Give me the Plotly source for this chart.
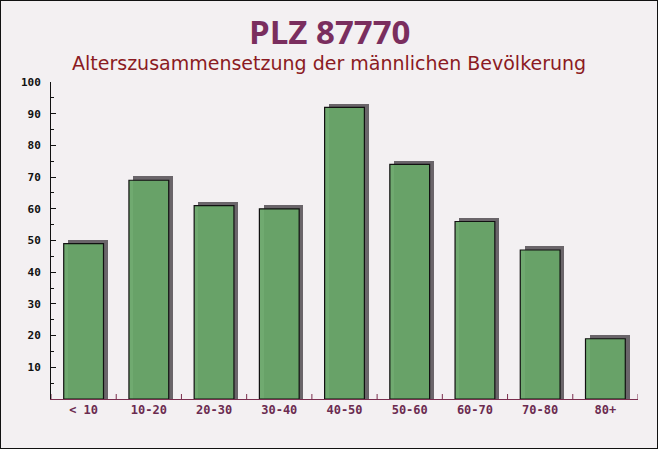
import plotly.graph_objects as go

categories = ["< 10", "10-20", "20-30", "30-40", "40-50", "50-60", "60-70", "70-80", "80+"]
values = [49, 69, 61, 60, 92, 74, 56, 47, 19]
y_ticks = [10, 20, 30, 40, 50, 60, 70, 80, 90, 100]
title_text = "PLZ 87770"
subtitle_text = "Alterszusammensetzung der männlichen Bevölkerung"

W, H = 658, 449
ML, MR, MT, MB = 51, 20, 82, 50
PW, PH = W - ML - MR, H - MT - MB

bar_w = 0.61
shadow_dx = 0.065
shadow_dy = 1.2

fig = go.Figure()
# shadow bars
fig.add_trace(go.Bar(
    x=categories, y=[v + shadow_dy for v in values],
    width=bar_w, offset=-bar_w / 2 + shadow_dx,
    marker=dict(color="#6a656a", line=dict(width=0)),
    hoverinfo="skip", showlegend=False,
))
# main bars
fig.add_trace(go.Bar(
    x=categories, y=values,
    width=bar_w, offset=-bar_w / 2,
    marker=dict(color="rgba(104,165,104,0.95)", line=dict(color="#111111", width=1.2)),
    showlegend=False,
))

fig.update_layout(
    width=W, height=H,
    autosize=False,
    margin=dict(l=ML, r=MR, t=MT, b=MB, pad=0, autoexpand=False),
    paper_bgcolor="#f3f0f2",
    plot_bgcolor="rgba(0,0,0,0)",
    barmode="overlay",
    bargap=0,
    xaxis=dict(
        type="category", range=[-0.5, len(categories) - 0.5],
        showgrid=False, zeroline=False, automargin=False,
        showline=True, linecolor="#7a2e4e", linewidth=1,
        ticks="", tickfont=dict(family="DejaVu Sans Mono", size=12, color="#6b2b50", weight="bold"),
        fixedrange=True,
    ),
    yaxis=dict(
        range=[0, 100], tickvals=y_ticks, ticktext=[str(t) for t in y_ticks],
        showgrid=False, zeroline=False, automargin=False,
        showline=True, linecolor="#111111", linewidth=1,
        ticks="inside", ticklen=5, tickcolor="#111111", tickwidth=1,
        minor=dict(dtick=5, ticks="inside", ticklen=3, tickcolor="#111111", tickwidth=1),
        tickfont=dict(family="DejaVu Sans Mono", size=11, color="#111111", weight="bold"),
        ticklabelstandoff=7,
        fixedrange=True,
    ),
    shapes=[dict(
        type="rect", xref="paper", yref="paper",
        x0=-ML / PW, x1=1 + MR / PW, y0=-MB / PH, y1=1 + MT / PH,
        line=dict(color="#111111", width=2), fillcolor="rgba(0,0,0,0)", layer="above",
    )],
    annotations=[
        dict(text="<b>" + title_text + "</b>", xref="paper", yref="paper",
             x=0.5 - (ML - MR) / 2 / PW, y=1 + (MT - 31) / PH, xanchor="center", yanchor="middle",
             showarrow=False, font=dict(family="Open Sans", size=33, color="#7a2e5e")),
        dict(text=subtitle_text, xref="paper", yref="paper",
             x=0.5 - (ML - MR) / 2 / PW, y=1 + (MT - 63) / PH, xanchor="center", yanchor="middle",
             showarrow=False, font=dict(family="DejaVu Sans", size=19, color="#8b1a22")),
    ],
)

# x-axis small ticks between categories
for i in range(len(categories) + 1):
    fig.add_shape(type="line", xref="x", yref="paper",
                  x0=i - 0.5, x1=i - 0.5, y0=0, y1=5 / PH,
                  line=dict(color="#7a2e4e", width=1))

fig.write_html("out.html", config={"displayModeBar": False, "staticPlot": True},
               post_script="document.body.style.margin='0';document.body.style.overflow='hidden';")
